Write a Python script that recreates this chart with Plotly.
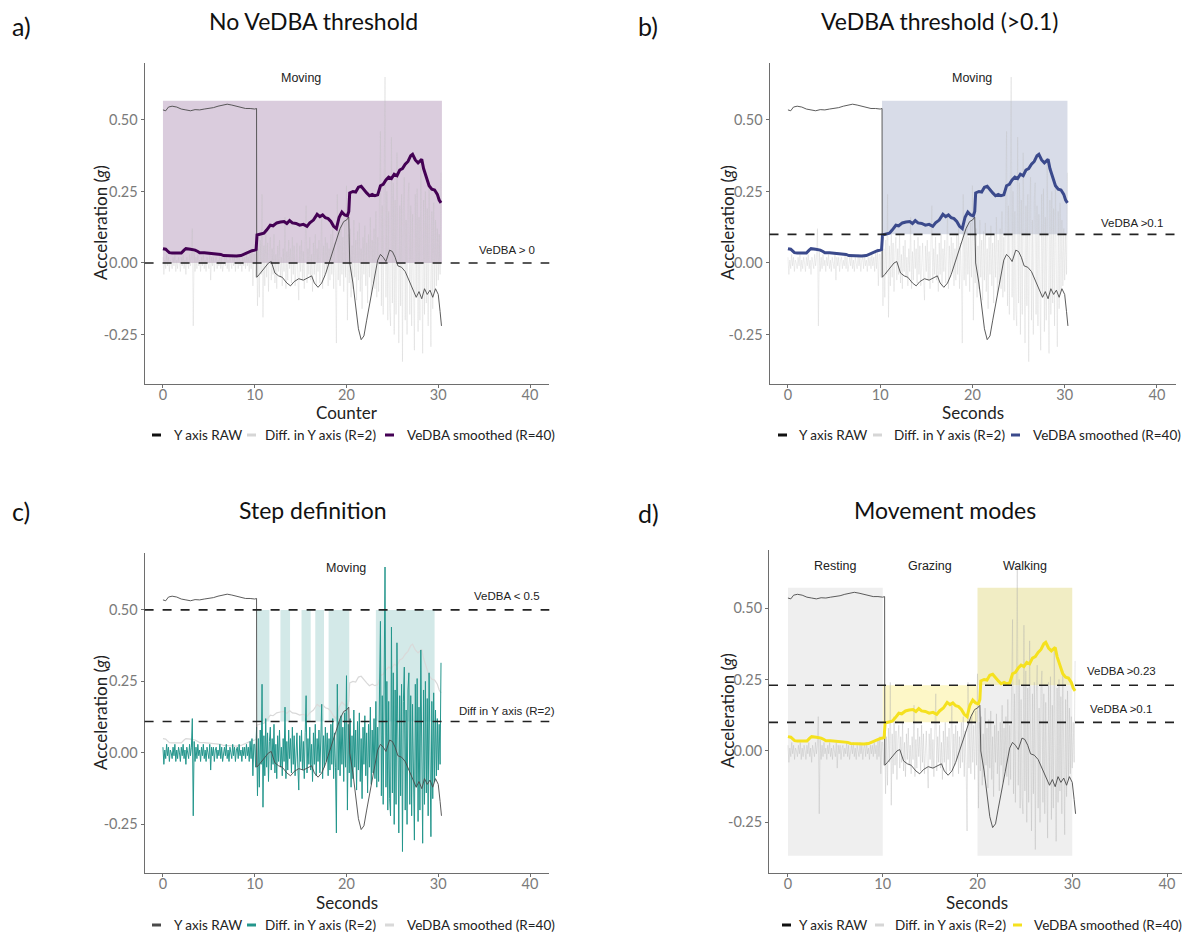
import plotly.graph_objects as go

W, H = 1182, 936

# ---------------- data ----------------
raw_x = [0, 0.3, 0.6, 1.0, 1.5, 2.0, 2.5, 3.0, 3.5, 4.0,
         4.5, 5.0, 5.5, 6.0, 6.5, 7.0, 7.5, 8.0, 8.5, 9.0,
         9.5, 10.0, 10.2, 10.22, 10.5, 11.0, 11.5, 11.8, 12.2, 12.6,
         13.0, 13.5, 13.9, 14.3, 14.8, 15.3, 15.8, 16.2, 16.5, 16.9,
         17.3, 17.7, 18.1, 18.5, 18.9, 19.3, 19.7, 20.0, 20.25, 20.35,
         20.7, 21.0, 21.3, 21.6, 21.9, 22.2, 22.6, 23.0, 23.4, 23.7,
         24.0, 24.3, 24.7, 25.0, 25.3, 25.6, 26.0, 26.4, 26.8, 27.2,
         27.6, 27.9, 28.2, 28.5, 28.8, 29.1, 29.4, 29.7, 30.0, 30.2,
         30.35]
raw_y = [0.535, 0.532, 0.545, 0.548, 0.545, 0.538, 0.535, 0.532, 0.536, 0.535,
         0.538, 0.54, 0.543, 0.548, 0.552, 0.555, 0.552, 0.548, 0.545, 0.54,
         0.54, 0.538, 0.54, -0.05, -0.04, -0.02, 0.0, 0.005, -0.035, -0.045,
         -0.05, -0.07, -0.08, -0.065, -0.055, -0.06, -0.05, -0.045, -0.07, -0.085,
         -0.07, -0.04, 0.0, 0.04, 0.08, 0.12, 0.145, 0.15, 0.16, 0.0,
         -0.07, -0.15, -0.23, -0.268, -0.255, -0.2, -0.13, -0.06, 0.01, 0.03,
         0.02, 0.005, 0.045, 0.04, 0.02, -0.01, -0.015, -0.03, -0.06, -0.09,
         -0.12, -0.1, -0.125, -0.09, -0.11, -0.095, -0.12, -0.09, -0.11, -0.17,
         -0.22]

# difference in Y axis (R=2), sampled every 0.1 s from 0 to 30.3 s
diff_y = [
    0.02, -0.04, 0.01, -0.02, 0.03, -0.01, 0.02, -0.03, 0.01, 0.00,
    -0.02, 0.02, -0.01, 0.03, -0.03, 0.01, -0.02, 0.02, 0.00, -0.03,
    0.02, -0.01, 0.03, -0.02, 0.01, -0.04, 0.02, 0.00, -0.02, 0.03,
    -0.01, 0.02, 0.12, -0.22, 0.04, -0.03, 0.02, -0.02, 0.03, -0.01,
    0.01, -0.03, 0.02, -0.01, 0.03, -0.02, 0.01, -0.03, 0.02, 0.00,
    -0.02, 0.03, -0.06, 0.02, -0.01, 0.02, -0.03, 0.01, 0.02, -0.02,
    0.01, -0.01, 0.03, -0.02, 0.02, -0.03, 0.01, 0.02, -0.01, 0.03,
    -0.02, 0.01, -0.03, 0.02, 0.00, -0.02, 0.03, -0.01, 0.02, -0.03,
    0.01, 0.02, -0.02, 0.03, -0.01, 0.01, -0.03, 0.02, -0.01, 0.02,
    -0.02, 0.03, -0.01, 0.02, -0.03, 0.04, -0.02, 0.05, -0.08, 0.03,
    0.03, -0.05, 0.09, -0.15, 0.05, -0.12, 0.08, -0.04, 0.24, -0.19,
    0.06, -0.08, 0.12, -0.05, 0.07, -0.10, 0.04, 0.09, -0.06, 0.05,
    -0.04, 0.10, -0.07, 0.03, -0.09, 0.06, -0.03, 0.08, -0.05, 0.02,
    -0.08, 0.05, -0.03, 0.16, -0.09, 0.04, -0.06, 0.08, -0.02, 0.05,
    -0.07, 0.09, -0.04, 0.06, -0.08, 0.03, 0.07, -0.05, -0.13, 0.06,
    -0.03, 0.08, -0.06, 0.04, -0.09, 0.07, 0.20, -0.07, 0.05, -0.04,
    0.09, -0.06, 0.03, -0.10, 0.07, -0.04, 0.10, -0.08, 0.05, -0.03,
    0.08, -0.07, 0.04, 0.17, -0.09, 0.06, -0.05, 0.09, -0.03, 0.07,
    -0.08, 0.05, -0.06, 0.10, -0.04, 0.12, -0.09, 0.07, -0.05, -0.28,
    0.24, -0.06, 0.11, -0.08, 0.13, -0.04, 0.09, -0.10, 0.14, -0.05,
    0.27, -0.20, 0.10, -0.07, 0.12, -0.12, 0.06, -0.09, 0.15, -0.05,
    0.08, -0.13, 0.11, -0.06, 0.14, -0.10, 0.05, -0.16, 0.09, -0.04,
    0.13, -0.08, 0.07, -0.14, 0.10, -0.05, 0.16, -0.11, 0.08, -0.07,
    0.12, -0.09, 0.18, -0.12, 0.09, -0.10, 0.22, 0.46, -0.15, 0.20,
    -0.18, 0.30, 0.65, -0.12, 0.25, -0.20, 0.18, -0.16, -0.22, 0.44,
    -0.14, 0.28, -0.25, 0.22, -0.18, 0.385, -0.10, -0.28, 0.20, -0.15,
    0.24, -0.345, 0.18, 0.30, -0.20, 0.15, -0.25, 0.22, 0.28, -0.18,
    0.20, -0.22, 0.17, -0.15, -0.305, 0.24, -0.12, 0.26, -0.24, 0.16,
    -0.20, 0.36, -0.10, -0.316, 0.22, -0.18, 0.25, -0.14, 0.19, -0.22,
    0.28, -0.12, -0.293, 0.18, -0.16, 0.21, -0.10, 0.15, -0.08, 0.12,
    -0.06, 0.10, -0.04, 0.315]
diff_x = [round(i * 0.1, 1) for i in range(len(diff_y))]

vedba_x = [0, 0.3, 0.5, 0.7, 1.0, 1.5, 2.0, 2.3, 2.5, 3.0,
           3.5, 3.8, 4.0, 4.5, 5.0, 5.5, 6.0, 6.3, 6.6, 7.0,
           7.5, 8.0, 8.5, 8.8, 9.1, 9.4, 9.7, 10.0, 10.15, 10.25,
           10.6, 11.0, 11.3, 11.7, 12.0, 12.4, 12.8, 13.2, 13.5, 13.8,
           14.1, 14.5, 14.9, 15.3, 15.7, 16.0, 16.4, 16.8, 17.1, 17.4,
           17.7, 18.0, 18.3, 18.6, 18.9, 19.2, 19.5, 19.8, 20.1, 20.25,
           20.35, 20.7, 21.0, 21.3, 21.6, 21.9, 22.2, 22.5, 22.8, 23.1,
           23.4, 23.7, 24.0, 24.3, 24.6, 24.9, 25.2, 25.5, 25.8, 26.1,
           26.4, 26.7, 27.0, 27.2, 27.5, 27.8, 28.0, 28.2, 28.4, 28.7,
           29.0, 29.3, 29.6, 29.9, 30.1, 30.3]
vedba_y = [0.05, 0.048, 0.042, 0.036, 0.035, 0.036, 0.035, 0.045, 0.05, 0.048,
           0.045, 0.04, 0.036, 0.036, 0.035, 0.034, 0.033, 0.03, 0.026, 0.025,
           0.023, 0.024, 0.026, 0.03, 0.036, 0.04, 0.043, 0.045, 0.047, 0.098,
           0.10, 0.104, 0.115, 0.132, 0.13, 0.14, 0.143, 0.145, 0.138, 0.148,
           0.14, 0.138, 0.132, 0.135, 0.128, 0.14, 0.15, 0.17, 0.162, 0.168,
           0.158, 0.155, 0.145, 0.128, 0.12, 0.16, 0.178, 0.168, 0.165, 0.18,
           0.245, 0.25, 0.248, 0.265, 0.268, 0.255, 0.245, 0.235, 0.24, 0.235,
           0.238, 0.27, 0.275, 0.29, 0.3, 0.295, 0.31, 0.305, 0.325, 0.33,
           0.345, 0.355, 0.375, 0.38, 0.36, 0.35, 0.358, 0.362, 0.33, 0.3,
           0.27, 0.258, 0.255, 0.24, 0.22, 0.21]

x_ticks = [0, 10, 20, 30, 40]
y_ticks = [-0.25, 0.0, 0.25, 0.5]
y_tick_labels = ["-0.25", "0.00", "0.25", "0.50"]
legend_labels = ["Y axis RAW", "Diff. in Y axis (R=2)", "VeDBA smoothed (R=40)"]

# step windows in panel c (start, end seconds)
step_windows = [(10.2, 11.6), (12.8, 13.85), (15.1, 16.1), (16.6, 17.55), (18.05, 20.3), (23.2, 29.6)]

# ---------------- style ----------------
PURPLE = "#440154"
BLUE = "#3b4a8c"
TEAL = "#24968c"
YELLOW = "#f5e11e"
LGRAY = "rgba(190,190,190,0.45)"
RAWC = "#4a4a4a"
TICKF = dict(family="Lato, Open Sans, sans-serif", size=14.5, color="#7a7a7a")
TXT = "Lato, Open Sans, sans-serif"
ARIAL = "Liberation Sans, Arial, sans-serif"


def px(xp):
    return xp / W


def py(yp):
    return 1 - yp / H


panels = {
    1: dict(L=144.6, R=549.3, T=63, B=384, yr=[-0.423, 0.699], xr=[-2, 42.1]),
    2: dict(L=769.5, R=1176.3, T=63, B=384, yr=[-0.423, 0.699], xr=[-2, 42.1]),
    3: dict(L=144.6, R=549.3, T=553, B=873, yr=[-0.42, 0.699], xr=[-2, 42.1]),
    4: dict(L=769.0, R=1182, T=550, B=873, yr=[-0.427, 0.703], xr=[-2, 41.58]),
}

fig = go.Figure()
layout = dict(width=W, height=H, margin=dict(l=0, r=0, t=0, b=0),
              plot_bgcolor="white", paper_bgcolor="white", showlegend=False)

for i, p in panels.items():
    sx = "" if i == 1 else str(i)
    layout["xaxis" + sx] = dict(domain=[px(p["L"]), px(p["R"])], range=p["xr"], anchor="y" + sx,
                                showgrid=False, zeroline=False, showline=True, linecolor="#6e6e6e",
                                linewidth=1, ticks="outside", ticklen=3, tickcolor="#6e6e6e",
                                tickvals=x_ticks, tickfont=TICKF, ticklabelstandoff=-5,
                                fixedrange=True)
    layout["yaxis" + sx] = dict(domain=[py(p["B"]), py(p["T"])], range=p["yr"], anchor="x" + sx,
                                showgrid=False, zeroline=False, showline=True, linecolor="#6e6e6e",
                                linewidth=1, ticks="outside", ticklen=3, tickcolor="#6e6e6e",
                                tickvals=y_ticks, ticktext=y_tick_labels, tickfont=TICKF,
                                fixedrange=True)
fig.update_layout(**layout)

shapes = []
ann = []


def hline(i, y):
    sx = "" if i == 1 else str(i)
    shapes.append(dict(type="line", xref="x" + sx + " domain", yref="y" + sx, x0=0, x1=1, y0=y, y1=y,
                       line=dict(color="#222", width=1.6, dash="dash"), layer="above"))


def rect(i, x0, x1, y0, y1, color):
    sx = "" if i == 1 else str(i)
    shapes.append(dict(type="rect", xref="x" + sx, yref="y" + sx, x0=x0, x1=x1, y0=y0, y1=y1,
                       fillcolor=color, line=dict(width=0), layer="below"))


def label(i, x, y, text, size=11.5):
    sx = "" if i == 1 else str(i)
    ann.append(dict(xref="x" + sx, yref="y" + sx, x=x, y=y, text=text, showarrow=False,
                    font=dict(family=ARIAL, size=size, color="#222")))


def add_lines(i, raw_col, raw_w, diff_col, diff_w, ved_col, ved_w, order):
    sx = "" if i == 1 else str(i)
    tr = {
        "raw": go.Scatter(x=raw_x, y=raw_y, mode="lines", line=dict(color=raw_col, width=raw_w)),
        "diff": go.Scatter(x=diff_x, y=diff_y, mode="lines", line=dict(color=diff_col, width=diff_w)),
        "ved": go.Scatter(x=vedba_x, y=vedba_y, mode="lines", line=dict(color=ved_col, width=ved_w)),
    }
    for k in order:
        t = tr[k]
        t.update(xaxis="x" + sx, yaxis="y" + sx, hoverinfo="skip")
        fig.add_trace(t)


# ---- panel a ----
rect(1, 0, 30.4, 0, 0.567, "rgba(68,1,84,0.2)")
add_lines(1, RAWC, 0.9, LGRAY, 0.6, PURPLE, 3, ["diff", "raw", "ved"])
hline(1, 0)
label(1, 15, 0.648, "Moving", 12.5)
label(1, 37.5, 0.045, "VeDBA > 0")

# ---- panel b ----
rect(2, 10.2, 30.3, 0.1, 0.567, "rgba(59,82,139,0.2)")
add_lines(2, RAWC, 0.9, LGRAY, 0.6, BLUE, 3, ["diff", "raw", "ved"])
hline(2, 0.1)
label(2, 20, 0.648, "Moving", 12.5)
label(2, 37.3, 0.141, "VeDBA >0.1")

# ---- panel c ----
for a, b in step_windows:
    rect(3, a, b, 0.11, 0.5, "rgba(33,144,140,0.2)")
add_lines(3, RAWC, 0.9, TEAL, 1.0, "#d9d9d9", 1.2, ["ved", "diff", "raw"])
hline(3, 0.5)
hline(3, 0.11)
label(3, 20, 0.648, "Moving", 12.5)
label(3, 37.5, 0.55, "VeDBA < 0.5")
label(3, 37.5, 0.146, "Diff in Y axis (R=2)")

# ---- panel d ----
rect(4, 0, 10, -0.367, 0.571, "#efefef")
rect(4, 20, 30, -0.367, 0.23, "#efefef")
rect(4, 20, 30, 0.23, 0.571, "#f1edc4")
rect(4, 10, 20, 0.1, 0.23, "#fdf7c8")
add_lines(4, RAWC, 0.9, "rgba(170,170,170,0.5)", 0.6, YELLOW, 3, ["diff", "raw", "ved"])
hline(4, 0.23)
hline(4, 0.1)
label(4, 5, 0.648, "Resting", 12.5)
label(4, 15, 0.648, "Grazing", 12.5)
label(4, 25, 0.648, "Walking", 12.5)
label(4, 35.2, 0.28, "VeDBA >0.23")
label(4, 35.1, 0.147, "VeDBA >0.1")


def paper_text(xp, yp, text, size, color="#111", angle=0, anchor="center"):
    ann.append(dict(xref="paper", yref="paper", x=px(xp), y=py(yp), text=text, showarrow=False,
                    xanchor=anchor, yanchor="middle", textangle=angle,
                    font=dict(family=TXT, size=size, color=color)))


paper_text(21, 26, "a)", 25)
paper_text(648, 26, "b)", 25)
paper_text(21, 511, "c)", 25)
paper_text(648, 513, "d)", 25)
paper_text(313, 21, "No VeDBA threshold", 23)
paper_text(939, 21, "VeDBA threshold (>0.1)", 23)
paper_text(313, 510, "Step definition", 23)
paper_text(945, 510, "Movement modes", 23)

ytitle = "Acceleration (<i>g</i>)"
paper_text(100, 223, ytitle, 17, "#222", -90)
paper_text(727, 223, ytitle, 17, "#222", -90)
paper_text(100, 713, ytitle, 17, "#222", -90)
paper_text(727, 711, ytitle, 17, "#222", -90)
paper_text(347, 412, "Counter", 17, "#222")
paper_text(973, 412, "Seconds", 17, "#222")
paper_text(347, 902, "Seconds", 17, "#222")
paper_text(977, 902, "Seconds", 17, "#222")

legends = [
    (435, [(152, "#111"), (247, "#d6d6d6"), (385, PURPLE)], [172, 263, 405]),
    (435, [(778, "#111"), (873, "#d6d6d6"), (1011, BLUE)], [797, 892, 1031]),
    (925, [(152, "#4a4a4a"), (247, TEAL), (385, "#d9d9d9")], [172, 263, 405]),
    (925, [(782, "#111"), (875, "#d6d6d6"), (1013, YELLOW)], [797, 893, 1032]),
]
for yl, sw, tx in legends:
    for (xs, col), xt, lab in zip(sw, tx, legend_labels):
        shapes.append(dict(type="line", xref="paper", yref="paper", x0=px(xs), x1=px(xs + 9),
                           y0=py(yl), y1=py(yl), line=dict(color=col, width=3)))
        paper_text(xt, yl, lab, 13.5, "#222", 0, "left")

fig.update_layout(shapes=shapes, annotations=ann)
fig.write_html("out.html")
